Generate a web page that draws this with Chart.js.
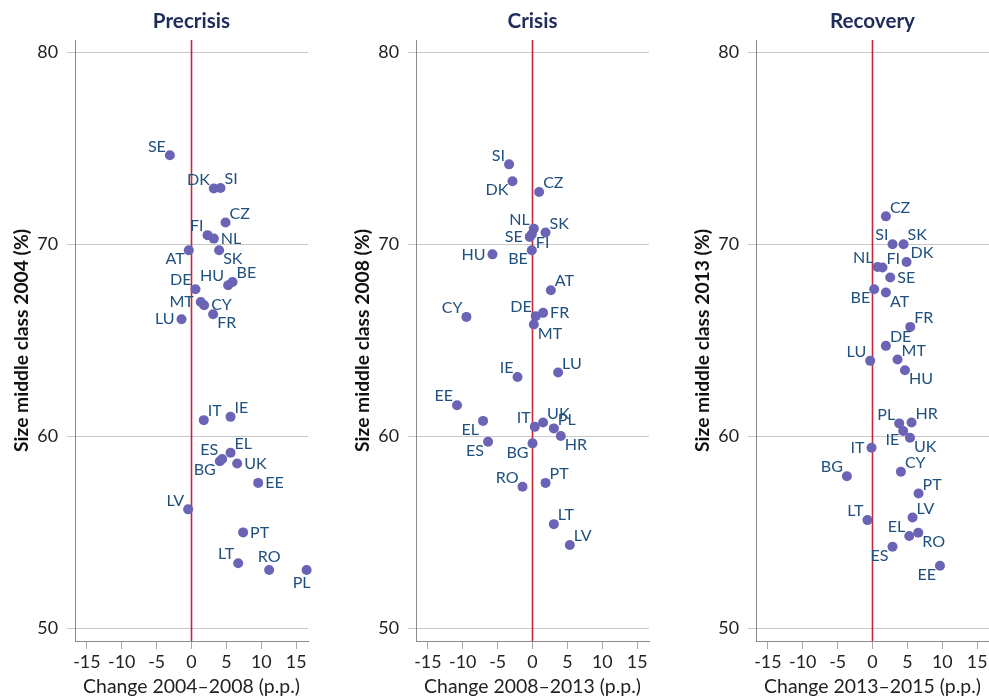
<!DOCTYPE html>
<html><head><meta charset="utf-8">
<script src="https://cdn.jsdelivr.net/npm/chart.js@4"></script>
<style>
html,body{margin:0;padding:0;background:#fff;overflow:hidden;width:989px;height:700px;position:relative}
canvas{position:absolute;top:0}
</style></head><body>
<canvas id="c0" width="330" height="700" style="left:0px"></canvas>
<canvas id="c1" width="330" height="700" style="left:341px"></canvas>
<canvas id="c2" width="330" height="700" style="left:681px"></canvas>
<script>
// ---- data ----
const xTicks = [-15, -10, -5, 0, 5, 10, 15];
const yTicks = [50, 60, 70, 80];
const panelTitles = ['Precrisis', 'Crisis', 'Recovery'];
const xTitles = ['Change 2004–2008 (p.p.)', 'Change 2008–2013 (p.p.)', 'Change 2013–2015 (p.p.)'];
const yTitles = ['Size middle class 2004 (%)', 'Size middle class 2008 (%)', 'Size middle class 2013 (%)'];

const preNames = ['SE','DK','SI','CZ','FI','NL','AT','SK','HU','BE','DE','MT','CY','FR','LU','IT','IE','EL','ES','BG','UK','EE','LV','PT','LT','RO','PL'];
const preX = [-3.1, 3.2, 4.16, 4.88, 2.3, 3.2, -0.39, 3.96, 5.25, 5.88, 0.57, 1.33, 1.81, 3.1, -1.43, 1.76, 5.6, 5.6, 4.4, 4.06, 6.55, 9.56, -0.48, 7.4, 6.69, 11.13, 16.5];
const preY = [74.65, 72.92, 72.95, 71.15, 70.49, 70.31, 69.70, 69.70, 67.88, 68.05, 67.67, 67.01, 66.84, 66.37, 66.11, 60.85, 61.02, 59.15, 58.82, 58.71, 58.59, 57.58, 56.2, 55.0, 53.39, 53.04, 53.04];
const prePos = ['nw','nw','ne','ne','nw','e','sw','se','nw','ne','nw','w','e','se','w','ne','ne','ne','nw','sw','e','e','nw','e','nw','n','s'];

const criNames = ['SI','DK','CZ','NL','SK','SE','FI','BE','HU','AT','CY','DE','FR','MT','IE','LU','EE','EL','UK','IT','PL','HR','ES','BG','PT','RO','LT','LV'];
const criX = [-3.36, -2.87, 0.95, 0.19, 1.87, -0.39, -0.1, -0.1, -5.74, 2.63, -9.47, 0.47, 1.52, 0.19, -2.15, 3.67, -10.82, -7.09, 1.52, 0.33, 3.06, 4.06, -6.37, 0.0, 1.87, -1.43, 3.06, 5.35];
const criY = [74.18, 73.30, 72.74, 70.83, 70.63, 70.40, 70.54, 69.70, 69.49, 67.62, 66.23, 66.27, 66.44, 65.83, 63.10, 63.33, 61.63, 60.81, 60.73, 60.50, 60.42, 60.02, 59.72, 59.64, 57.58, 57.38, 55.43, 54.34];
const criPos = ['nw','sw','ne','nw','ne','w','se','sw','w','ne','nw','nw','e','se','nw','ne','nw','sw','ne','nw','ne','se','sw','sw','ne','nw','ne','ne'];

const recNames = ['CZ','SI','SK','DK','NL','FI','SE','BE','AT','FR','DE','LU','MT','HU','PL','HR','IE','UK','IT','CY','BG','PT','LV','LT','EL','RO','ES','EE'];
const recX = [1.92, 2.87, 4.45, 4.88, 0.72, 1.43, 2.54, 0.24, 1.92, 5.41, 1.92, -0.33, 3.59, 4.65, 3.83, 5.6, 4.4, 5.37, -0.14, 4.07, -3.67, 6.6, 5.74, -0.72, 5.27, 6.56, 2.87, 9.67];
const recY = [71.47, 70.02, 70.02, 69.09, 68.83, 68.80, 68.28, 67.67, 67.50, 65.71, 64.72, 63.94, 64.01, 63.45, 60.68, 60.73, 60.28, 59.93, 59.41, 58.16, 57.93, 57.03, 55.78, 55.64, 54.81, 54.98, 54.25, 53.26];
const recPos = ['ne','nw','ne','ne','nw','ne','e','sw','se','ne','ne','nw','ne','se','nw','ne','sw','se','w','ne','nw','ne','ne','nw','nw','se','sw','sw'];

// ---- style ----
const FAMILY = 'Lato, "Noto Sans", sans-serif';
const DOT = '#6b63b5';
const LABEL = '#20507d';
const TITLE = '#1f2d5a';
const RED = '#c8283c';
const X_MIN = -16.7, X_MAX = 16.7, Y_MIN = 49.34, Y_MAX = 80.66;

const mctx = document.createElement('canvas').getContext('2d');
function fit(text, weight, target) {
  mctx.font = weight + ' 100px ' + FAMILY;
  return 100 * target / mctx.measureText(text).width;
}
const sizeXTitle = fit('Change 2004–2008 (p.p.)', 'normal', 217);
const sizeYTitle = fit('Size middle class 2004 (%)', 'bold', 223);
const sizeTick = fit('80', 'normal', 20.7);
const sizeTitle = fit('Precrisis', 'bold', 77.3);
const sizeLabel = fit('SE', 'normal', 18);

const OFF = {n:[0,-13,'center'], s:[-5,13,'center'], e:[7,0,'left'], w:[-7,0,'right'],
             ne:[4,-9,'left'], nw:[-4,-9,'right'], se:[4,9,'left'], sw:[-4,9,'right']};

function makeChart(id, w, idx, names, xs, ys, pos) {
  const labelPlugin = {
    id: 'lbl' + idx,
    afterDatasetsDraw(chart) {
      const c = chart.ctx;
      const pts = chart.getDatasetMeta(0).data;
      c.save();
      c.font = 'normal ' + sizeLabel + 'px ' + FAMILY;
      c.fillStyle = LABEL;
      c.textBaseline = 'middle';
      pts.forEach((p, i) => {
        const o = OFF[pos[i]];
        c.textAlign = o[2];
        c.fillText(names[i], p.x + o[0], p.y + o[1]);
      });
      c.restore();
    },
    afterDraw(chart) {
      const c = chart.ctx, a = chart.chartArea;
      c.save();
      c.font = 'bold ' + sizeTitle + 'px ' + FAMILY;
      c.fillStyle = TITLE;
      c.textAlign = 'center';
      c.textBaseline = 'middle';
      c.fillText(panelTitles[idx], (a.left + a.right) / 2, 21);
      c.restore();
    }
  };
  return new Chart(document.getElementById(id), {
    type: 'scatter',
    data: { datasets: [
      { data: xs.map((x, i) => ({ x: x, y: ys[i] })), backgroundColor: DOT, borderWidth: 0,
        pointRadius: 5, pointHoverRadius: 5, order: 1, clip: false },
      { type: 'line', data: [{ x: 0, y: Y_MIN }, { x: 0, y: Y_MAX }], borderColor: RED,
        borderWidth: 1.6, pointRadius: 0, fill: false, order: 2 }
    ]},
    options: {
      responsive: false, animation: false, events: [],
      layout: { padding: { top: 40, right: w - 308, left: 0, bottom: 0 } },
      plugins: { legend: { display: false }, tooltip: { enabled: false } },
      scales: {
        x: {
          type: 'linear', min: X_MIN, max: X_MAX,
          afterBuildTicks: s => { s.ticks = xTicks.map(v => ({ value: v })); },
          afterFit: s => { s.height = 59; },
          grid: { drawOnChartArea: false, drawTicks: true, tickLength: 8, color: '#a8a8a8' },
          border: { display: true, color: '#8a8a8a', width: 1 },
          ticks: { color: '#222', padding: 3, maxRotation: 0, autoSkip: false,
                   font: { family: FAMILY, size: sizeTick } },
          title: { display: true, text: xTitles[idx], color: '#222',
                   font: { family: FAMILY, size: sizeXTitle }, padding: { top: 0, bottom: 2 } }
        },
        y: {
          type: 'linear', min: Y_MIN, max: Y_MAX,
          afterBuildTicks: s => { s.ticks = yTicks.map(v => ({ value: v })); },
          afterFit: s => { s.width = 75; },
          grid: { color: '#c8c8c8', drawTicks: true, tickLength: 8 },
          border: { display: true, color: '#8a8a8a', width: 1 },
          ticks: { color: '#222', padding: 9, autoSkip: false,
                   font: { family: FAMILY, size: sizeTick } },
          title: { display: true, text: yTitles[idx], color: '#111',
                   font: { family: FAMILY, size: sizeYTitle, weight: 'bold' }, padding: { top: 10, bottom: 0 } }
        }
      }
    },
    plugins: [labelPlugin]
  });
}

makeChart('c0', 330, 0, preNames, preX, preY, prePos);
makeChart('c1', 330, 1, criNames, criX, criY, criPos);
makeChart('c2', 330, 2, recNames, recX, recY, recPos);
</script>
</body></html>
